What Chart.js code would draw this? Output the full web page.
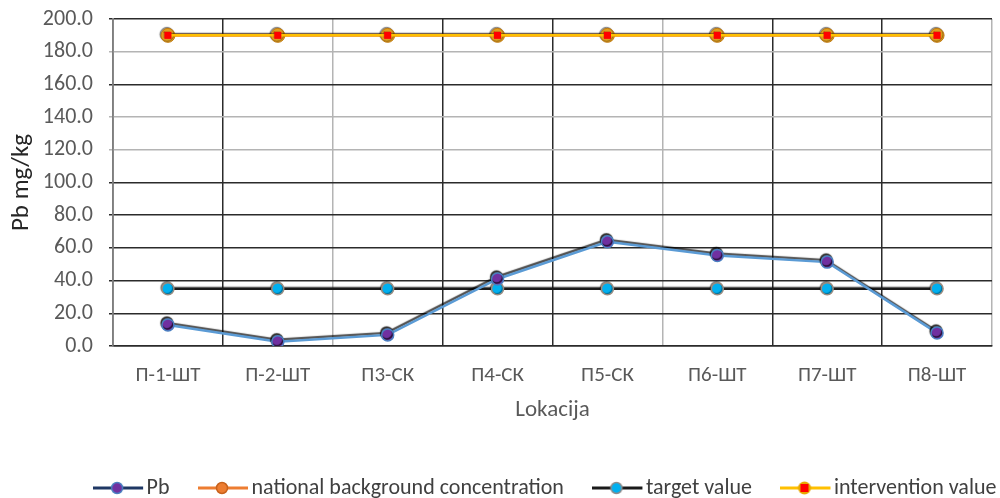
<!DOCTYPE html>
<html>
<head>
<meta charset="utf-8">
<script src="https://cdn.jsdelivr.net/npm/chart.js@4/dist/chart.umd.min.js"></script>
<style>
  html, body { margin: 0; padding: 0; background: #fff; }
  #wrap { width: 1000px; height: 498px; position: relative; }
</style>
</head>
<body>
<div id="wrap"><canvas id="c" width="1000" height="498"></canvas></div>
<script>
// Sampling locations
const locations = ['П-1-ШТ', 'П-2-ШТ', 'П3-СК', 'П4-СК', 'П5-СК', 'П6-ШТ', 'П7-ШТ', 'П8-ШТ'];
// Measured lead content, mg/kg
const pbValues = [12.9, 2.6, 6.8, 41.0, 63.7, 55.4, 51.3, 8.0];
// Reference levels, mg/kg
const nationalBackground = [190, 190, 190, 190, 190, 190, 190, 190];
const targetValue = [35, 35, 35, 35, 35, 35, 35, 35];
const interventionValue = [190, 190, 190, 190, 190, 190, 190, 190];
// Axis range
const yMin = 0, yMax = 200, yStep = 20;

const FONT = "'Carlito', 'Liberation Sans', sans-serif";
const TEXT = '#595959';
const DARK = '#2b2b2b';
const LIGHT = '#b4b4b4';

// Legend swatch: a line with the series marker in the middle
function swatch(lineColor, draw) {
  const cv = document.createElement('canvas');
  cv.width = 51; cv.height = 16;
  const g = cv.getContext('2d');
  g.strokeStyle = lineColor; g.lineWidth = 3;
  g.beginPath(); g.moveTo(0, 8); g.lineTo(50, 8); g.stroke();
  draw(g, 24, 8);
  return cv;
}
function circle(fill, stroke, r) {
  return (g, x, y) => {
    g.beginPath(); g.arc(x, y, r, 0, Math.PI * 2);
    g.fillStyle = fill; g.fill();
    if (stroke) { g.lineWidth = 1.5; g.strokeStyle = stroke; g.stroke(); }
  };
}
const legendIcons = [
  swatch('#1f3864', circle('#7030a0', '#4a7fc1', 5.5)),
  swatch('#ed7d31', circle('#ed7d31', '#c8621c', 5.5)),
  swatch('#1a1a1a', circle('#00b0f0', '#8c8c8c', 5.5)),
  swatch('#ffc000', (g, x, y) => {
    g.fillStyle = '#e8a800'; g.beginPath(); g.arc(x, y, 6.5, 0, Math.PI * 2); g.fill();
    g.fillStyle = '#ff0000'; g.fillRect(x - 4, y - 4, 8, 8);
  })
];

// Soft dark shadow behind each series, up and to the left (stronger on Pb)
const shadowPlugin = {
  id: 'seriesShadow',
  beforeDatasetDraw(chart, args) {
    const ctx = chart.ctx;
    const strong = args.index === 0;
    ctx.save();
    ctx.shadowColor = strong ? 'rgba(0,0,0,0.7)' : 'rgba(0,0,0,0.4)';
    ctx.shadowBlur = 1;
    ctx.shadowOffsetX = -1;
    ctx.shadowOffsetY = strong ? -2 : -1;
  },
  afterDatasetDraw(chart) { chart.ctx.restore(); }
};

// Nudge the legend row so it sits under the plot area, near the bottom edge
const legendNudge = {
  id: 'legendNudge',
  afterLayout(chart) {
    const lg = chart.legend;
    if (!lg) return;
    const dx = 50, dy = 11;
    lg.left += dx; lg.right += dx;
    lg.top += dy; lg.bottom += dy;
  }
};

// Grid shading per line
const hGridDark = { 0: true, 20: true, 40: true, 60: true, 80: true, 100: true, 120: false, 140: false, 160: true, 180: false, 200: true };
const vGridDark = [true, true, false, true, true, false, true, true, true];

new Chart(document.getElementById('c'), {
  type: 'line',
  data: {
    labels: locations,
    datasets: [
      {
        label: 'Pb', data: pbValues, order: 1,
        borderColor: '#5b9bd5', borderWidth: 2.5,
        pointBackgroundColor: '#7030a0', pointBorderColor: '#4a7fc1', pointBorderWidth: 1.5,
        pointRadius: 6, pointStyle: 'circle', tension: 0
      },
      {
        label: 'national background concentration', data: nationalBackground, order: 4,
        borderColor: '#ed7d31', borderWidth: 3,
        pointBackgroundColor: '#e0a020', pointBorderColor: '#c07a10', pointBorderWidth: 1,
        pointRadius: 7, pointStyle: 'circle'
      },
      {
        label: 'target value', data: targetValue, order: 2,
        borderColor: '#1a1a1a', borderWidth: 2.5,
        pointBackgroundColor: '#00b0f0', pointBorderColor: '#9a8c80', pointBorderWidth: 1.5,
        pointRadius: 6, pointStyle: 'circle'
      },
      {
        label: 'intervention value', data: interventionValue, order: 3,
        borderColor: '#ffc000', borderWidth: 2.5,
        pointBackgroundColor: '#ff0000', pointBorderColor: '#ff2000', pointBorderWidth: 0,
        pointRadius: 5, pointStyle: 'rect'
      }
    ]
  },
  options: {
    responsive: false,
    animation: false,
    layout: { padding: { top: 19, right: 2, left: 0, bottom: 0 } },
    plugins: {
      tooltip: { enabled: false },
      legend: {
        position: 'bottom',
        labels: {
          usePointStyle: true,
          pointStyleWidth: 34,
          padding: 37,
          color: '#404040',
          font: { family: FONT, size: 22 },
          generateLabels(chart) {
            return chart.data.datasets.map((ds, i) => ({
              text: ds.label,
              pointStyle: legendIcons[i],
              fontColor: '#404040',
              datasetIndex: i,
              hidden: false,
              lineWidth: 0
            }));
          }
        }
      }
    },
    scales: {
      x: {
        offset: true,
        grid: {
          offset: true,
          drawTicks: false,
          lineWidth: 1.5,
          color: c => vGridDark[c.index] ? DARK : LIGHT
        },
        border: { display: true, color: DARK, width: 1.5 },
        ticks: { color: TEXT, padding: 17, font: { family: FONT, size: 21 }, maxRotation: 0 },
        title: { display: true, text: 'Lokacija', color: TEXT, padding: { top: 0, bottom: 5 }, font: { family: FONT, size: 23 } },
        afterFit(s) { s.height = 83; }
      },
      y: {
        min: yMin, max: yMax,
        grid: {
          drawTicks: true, tickLength: 20,
          // only the short stub next to the axis line is visible
          tickBorderDash: [0, 16, 4, 100],
          lineWidth: 1.5,
          color: c => (c.tick && hGridDark[c.tick.value] === false) ? LIGHT : DARK
        },
        border: { display: true, color: '#7f7f7f', width: 1.5 },
        ticks: {
          stepSize: yStep, autoSkip: false, color: TEXT, padding: 0,
          font: { family: FONT, size: 22 },
          callback: v => Number(v).toFixed(1)
        },
        title: { display: true, text: 'Pb mg/kg', color: '#262626', padding: { top: 7, bottom: 4 }, font: { family: FONT, size: 25 } },
        afterFit(s) { s.width = 113; }
      }
    }
  },
  plugins: [shadowPlugin, legendNudge]
});
</script>
</body>
</html>
